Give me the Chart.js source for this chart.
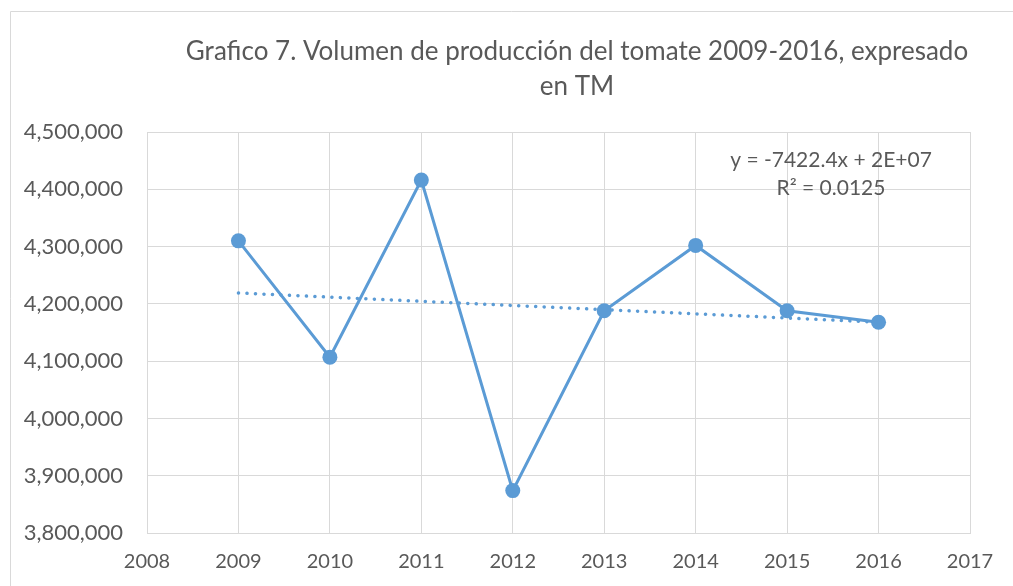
<!DOCTYPE html>
<html>
<head>
<meta charset="utf-8">
<script src="https://cdn.jsdelivr.net/npm/chart.js@4.4.1/dist/chart.umd.min.js"></script>
<style>
  html, body { margin: 0; padding: 0; background: #fff; overflow: hidden; }
  #wrap { position: relative; width: 1013px; height: 586px; }
</style>
</head>
<body>
<div id="wrap"><canvas id="chart" width="1013" height="586"></canvas></div>
<script>
const years = [2009, 2010, 2011, 2012, 2013, 2014, 2015, 2016];
const production = [4310000, 4107000, 4416000, 3874000, 4188000, 4302000, 4188000, 4168000];
const trendYears = [2009, 2016];
const trendValues = [4219000, 4168000];
const titleLines = ["Grafico 7. Volumen de producción del tomate 2009-2016, expresado", "en TM"];
const equationLines = ["y = -7422.4x + 2E+07", "R² = 0.0125"];

const blue = "#5B9BD5";
const grey = "#D9D9D9";
const textColor = "#595959";
const fontFamily = "Lato, 'Open Sans', sans-serif";

// title, trend equation and the outer frame
const decorations = {
  id: "decorations",
  beforeDraw(chart) {
    const { ctx } = chart;
    ctx.save();
    ctx.strokeStyle = grey;
    ctx.lineWidth = 1;
    ctx.beginPath();
    ctx.moveTo(10.5, 586);
    ctx.lineTo(10.5, 11.5);
    ctx.lineTo(1013, 11.5);
    ctx.stroke();
    ctx.restore();
  },
  afterDraw(chart) {
    const { ctx } = chart;
    ctx.save();
    ctx.fillStyle = textColor;
    ctx.textAlign = "center";
    ctx.textBaseline = "middle";
    ctx.font = "26px " + fontFamily;
    ctx.fillText(titleLines[0], 577, 52);
    ctx.fillText(titleLines[1], 577, 87);
    ctx.font = "21px " + fontFamily;
    ctx.fillText(equationLines[0], 831, 160);
    ctx.fillText(equationLines[1], 831, 188);
    ctx.restore();
  },
};

new Chart(document.getElementById("chart"), {
  type: "line",
  data: {
    datasets: [
      {
        data: years.map((x, i) => ({ x, y: production[i] })),
        borderColor: blue,
        backgroundColor: blue,
        borderWidth: 3,
        pointRadius: 7.5,
        pointHoverRadius: 7.5,
        pointBorderWidth: 0,
        tension: 0,
      },
      {
        data: trendYears.map((x, i) => ({ x, y: trendValues[i] })),
        borderColor: blue,
        borderWidth: 3.5,
        borderDash: [0.1, 8.4],
        borderCapStyle: "round",
        pointRadius: 0,
        tension: 0,
      },
    ],
  },
  options: {
    responsive: false,
    animation: false,
    devicePixelRatio: 1,
    layout: {
      padding: { top: 132, right: 43, left: 0, bottom: 0 },
    },
    plugins: {
      legend: { display: false },
      tooltip: { enabled: false },
      title: { display: false },
    },
    scales: {
      x: {
        type: "linear",
        min: 2008,
        max: 2017,
        afterFit(scale) {
          scale.height = 53;
        },
        border: { color: grey },
        grid: { color: grey, drawTicks: false },
        ticks: {
          stepSize: 1,
          padding: 17,
          color: textColor,
          font: { size: 20, family: fontFamily },
          callback: (v) => String(v),
        },
      },
      y: {
        min: 3800000,
        max: 4500000,
        afterFit(scale) {
          scale.width = 147;
        },
        border: { color: grey },
        grid: { color: grey, drawTicks: false },
        ticks: {
          stepSize: 100000,
          padding: 24,
          color: textColor,
          font: { size: 22, family: fontFamily },
          callback: (v) => v.toLocaleString("en-US"),
        },
      },
    },
  },
  plugins: [decorations],
});
</script>
</body>
</html>
